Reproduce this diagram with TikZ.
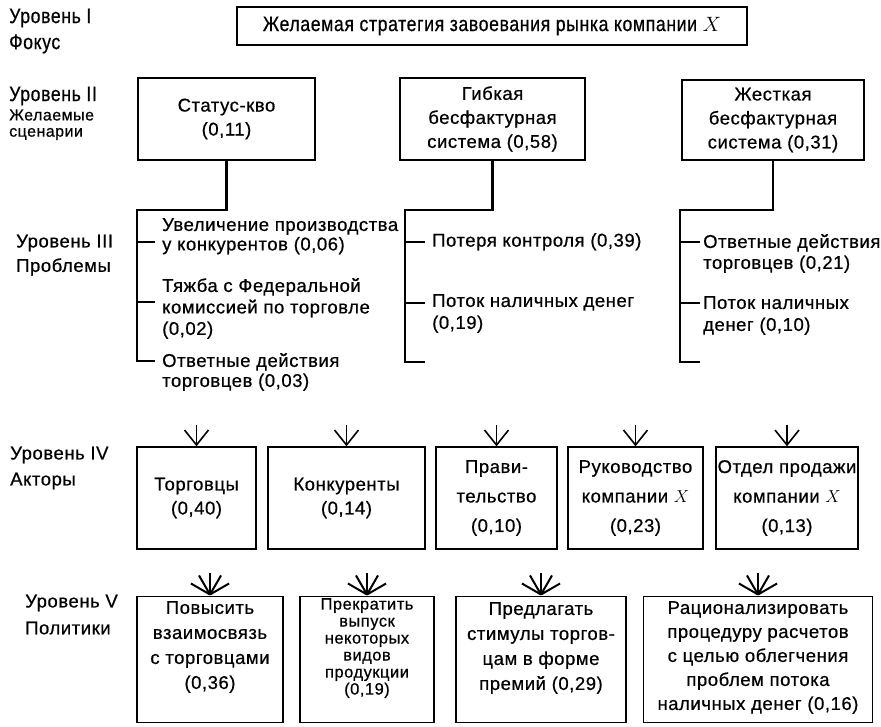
\documentclass[tikz,border=0pt]{standalone}
\usepackage{fontspec}
\setmainfont{Liberation Sans}[LetterSpace=3, FakeBold=0.6]
\newfontfamily\narrow{Liberation Sans}[FakeStretch=0.84, LetterSpace=3, FakeBold=0.6]
\usetikzlibrary{arrows.meta,positioning}

\tikzset{
  txt/.style={inner sep=0pt, align=center, font=\fontsize{18.5}{24}\selectfont},
  lvl/.style={inner sep=0pt, anchor=west, font=\fontsize{18.5}{22}\selectfont},
  nlvl/.style={lvl, font=\narrow\fontsize{21}{22}\selectfont},
  prob/.style={inner sep=0pt, anchor=north west, align=left, font=\fontsize{18.5}{21}\selectfont},
  box/.style={draw, line width=1.4pt},
  bar/.style={line width=2.8pt},
  pick/.style={line width=1.6pt, -{Straight Barb[length=15pt, width=24pt, line width=1.6pt]}},
  fan/.style={line width=2pt},
}

\begin{document}
\begin{tikzpicture}[x=1pt, y=-1pt]
  \useasboundingbox (0,0) rectangle (881,726);
%--- Уровень I
  \node[nlvl] (lvI) at (9,18) {Уровень I};
  \node[nlvl] (lvIa) at (9,44) {Фокус};
  \node[box, txt, minimum width=510, minimum height=38, font=\narrow\fontsize{21}{24}\selectfont]
    (goal) at (492,26) {Желаемая стратегия завоевания рынка компании $X$};
%--- Уровень II
  \node[nlvl] (lvII) at (9,96) {Уровень II};
  \node[lvl, font=\fontsize{16}{18}\selectfont] (lvIIa) at (9,115) {Желаемые};
  \node[lvl, font=\fontsize{16}{18}\selectfont] (lvIIb) at (9,134) {сценарии};
  \node[box, txt, minimum width=177, minimum height=82] (sq) at (226.5,119)
    {Статус-кво\\(0,11)};
  \node[box, txt, minimum width=185, minimum height=82] (flex) at (492.5,119)
    {Гибкая\\бесфактурная\\система (0,58)};
  \node[box, txt, minimum width=182, minimum height=80] (rigid) at (773,120)
    {Жесткая\\бесфактурная\\система (0,31)};
%--- Уровень III
  \node[lvl] (lvIII) at (16,243) {Уровень III};
  \node[lvl] (lvIIIa) at (16,267) {Проблемы};
  % статус-кво
  \coordinate (sqK) at (137,210);
  \coordinate (sqt1) at (155,242);
  \coordinate (sqt2) at (155,302);
  \coordinate (sqt3) at (155,361);
  \draw[bar] (sq.south) |- (sqK) -- (sqK |- sqt3) -- (sqt3);
  \draw[bar] (sqK |- sqt1) -- (sqt1);
  \draw[bar] (sqK |- sqt2) -- (sqt2);
  \node[prob, font=\fontsize{18.5}{19.5}\selectfont] (sqp1) at (162,218)
    {Увеличение производства\\у конкурентов (0,06)};
  \node[prob, font=\fontsize{18.5}{21.5}\selectfont] (sqp2) at (162,278)
    {Тяжба с Федеральной\\комиссией по торговле\\(0,02)};
  \node[prob, font=\fontsize{18.5}{20}\selectfont] (sqp3) at (162,353)
    {Ответные действия\\торговцев (0,03)};
  % гибкая система
  \coordinate (flK) at (405,210);
  \coordinate (flt1) at (425,242);
  \coordinate (flt2) at (425,303);
  \coordinate (flt3) at (425,362);
  \draw[bar] (flex.south) |- (flK) -- (flK |- flt3) -- (flt3);
  \draw[bar] (flK |- flt1) -- (flt1);
  \draw[bar] (flK |- flt2) -- (flt2);
  \node[prob] (flp1) at (432,233) {Потеря контроля (0,39)};
  \node[prob, font=\fontsize{18.5}{22}\selectfont] (flp2) at (432,294)
    {Поток наличных денег\\(0,19)};
  % жесткая система
  \coordinate (rgK) at (680,210);
  \coordinate (rgt1) at (700,242);
  \coordinate (rgt2) at (700,303);
  \coordinate (rgt3) at (700,362);
  \draw[bar] (rigid.south) |- (rgK) -- (rgK |- rgt3) -- (rgt3);
  \draw[bar] (rgK |- rgt1) -- (rgt1);
  \draw[bar] (rgK |- rgt2) -- (rgt2);
  \node[prob] (rgp1) at (703,234) {Ответные действия\\торговцев (0,21)};
  \node[prob, font=\fontsize{18.5}{22}\selectfont] (rgp2) at (703,296)
    {Поток наличных\\денег (0,10)};
%--- Уровень IV
  \node[lvl] (lvIV) at (10,455) {Уровень IV};
  \node[lvl] (lvIVa) at (10,481) {Акторы};
  \node[box, txt, minimum width=119, minimum height=102] (trd) at (196.5,498)
    {Торговцы\\(0,40)};
  \node[box, txt, minimum width=157, minimum height=102] (cmp) at (346.5,498)
    {Конкуренты\\(0,14)};
  \node[box, txt, minimum width=121, minimum height=102, font=\fontsize{18.5}{29.5}\selectfont]
    (gov) at (496.5,498) {Прави-\\тельство\\(0,10)};
  \node[box, txt, minimum width=135, minimum height=102, font=\fontsize{18.5}{29.5}\selectfont]
    (mgm) at (635.5,498) {Руководство\\компании $X$\\(0,23)};
  \node[box, txt, minimum width=142, minimum height=102, font=\fontsize{18.5}{29.5}\selectfont]
    (sls) at (787,498) {Отдел продажи\\компании $X$\\(0,13)};
  \foreach \n in {trd,cmp,gov,mgm,sls}
    \draw[pick] ([yshift=21pt]\n.north) -- (\n.north);
%--- Уровень V
  \node[lvl] (lvV) at (25,603) {Уровень V};
  \node[lvl] (lvVa) at (25,628) {Политики};
  \node[box, minimum width=146, minimum height=126, anchor=north] (tie) at (210,596) {};
  \node[box, minimum width=134, minimum height=126, anchor=north] (stop) at (367,596) {};
  \node[box, minimum width=170, minimum height=126, anchor=north] (bonus) at (541,596) {};
  \node[box, minimum width=229, minimum height=126, anchor=north] (pay) at (758,596) {};
  \node[txt, font=\fontsize{18.5}{25}\selectfont, below=5pt of tie.north] (tieT)
    {Повысить\\взаимосвязь\\с торговцами\\(0,36)};
  \node[txt, font=\fontsize{16.5}{17}\selectfont, below=2pt of stop.north] (stopT)
    {Прекратить\\выпуск\\некоторых\\видов\\продукции\\(0,19)};
  \node[txt, font=\fontsize{18.5}{25}\selectfont, below=6pt of bonus.north] (bonusT)
    {Предлагать\\стимулы торгов-\\цам в форме\\премий (0,29)};
  \node[txt, font=\fontsize{18.5}{24}\selectfont, below=5pt of pay.north] (payT)
    {Рационализировать\\процедуру расчетов\\с целью облегчения\\проблем потока\\наличных денег (0,16)};
  \foreach \n in {tie,stop,bonus,pay}
    \foreach \a in {-60,-30,0,30,60}
      \draw[fan] ([yshift=1.5pt]\n.north) -- ++(270+\a:22);
\end{tikzpicture}
\end{document}
